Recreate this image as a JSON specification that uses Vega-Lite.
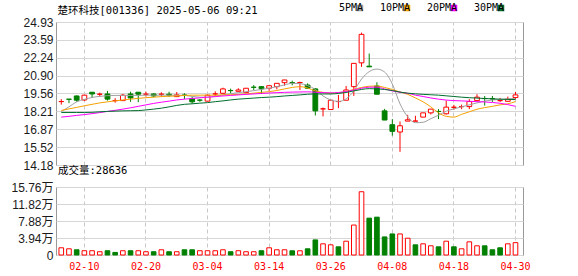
{
"$schema": "https://vega.github.io/schema/vega-lite/v6.json",
"background": "white",
"padding": {"left": 0, "top": 2, "right": 0, "bottom": 0},
"bounds": "flush",
"spacing": 22,
"config": {
  "view": {"stroke": "#999999", "strokeWidth": 1},
  "axis": {"domain": false, "ticks": false, "gridColor": "#d6d6d6", "gridWidth": 1}
},
"resolve": {"scale": {"color": "independent", "fill": "independent", "stroke": "independent"}, "legend": {"color": "independent", "fill": "independent", "stroke": "independent"}},
"datasets": {"k": [
{"d":"02-05","o":18.95,"h":19.13,"l":18.72,"c":18.95,"vol":1.67,"k":"up","v":"up","5PMA":18.20,"10PMA":18.28,"20PMA":17.78,"30PMA":18.13},
{"d":"02-06","o":19.13,"h":19.14,"l":18.83,"c":19.12,"vol":1.44,"k":"down","v":"up","5PMA":18.55,"10PMA":18.40,"20PMA":17.84,"30PMA":18.13},
{"d":"02-07","o":19.37,"h":19.40,"l":18.93,"c":19.05,"vol":1.21,"k":"down","v":"down","5PMA":18.93,"10PMA":18.51,"20PMA":17.91,"30PMA":18.13},
{"d":"02-10","o":19.07,"h":19.45,"l":19.00,"c":19.43,"vol":0.99,"k":"up","v":"up","5PMA":19.11,"10PMA":18.63,"20PMA":17.97,"30PMA":18.13},
{"d":"02-11","o":19.65,"h":19.66,"l":19.22,"c":19.52,"vol":0.99,"k":"down","v":"up","5PMA":19.26,"10PMA":18.74,"20PMA":18.04,"30PMA":18.14},
{"d":"02-12","o":19.50,"h":19.62,"l":19.32,"c":19.50,"vol":0.76,"k":"up","v":"up","5PMA":19.34,"10PMA":18.85,"20PMA":18.12,"30PMA":18.18},
{"d":"02-13","o":19.52,"h":19.75,"l":19.02,"c":19.13,"vol":0.99,"k":"down","v":"down","5PMA":19.39,"10PMA":18.93,"20PMA":18.21,"30PMA":18.21},
{"d":"02-14","o":19.02,"h":19.20,"l":18.87,"c":19.02,"vol":0.60,"k":"up","v":"down","5PMA":19.41,"10PMA":19.00,"20PMA":18.29,"30PMA":18.23},
{"d":"02-17","o":19.02,"h":19.52,"l":19.00,"c":19.43,"vol":0.99,"k":"up","v":"up","5PMA":19.41,"10PMA":19.07,"20PMA":18.38,"30PMA":18.25},
{"d":"02-18","o":19.52,"h":19.69,"l":18.93,"c":19.22,"vol":0.99,"k":"down","v":"down","5PMA":19.41,"10PMA":19.13,"20PMA":18.48,"30PMA":18.26},
{"d":"02-19","o":19.65,"h":19.67,"l":18.90,"c":19.50,"vol":0.99,"k":"down","v":"up","5PMA":19.41,"10PMA":19.19,"20PMA":18.59,"30PMA":18.27},
{"d":"02-20","o":19.50,"h":19.69,"l":19.32,"c":19.50,"vol":0.76,"k":"up","v":"up","5PMA":19.43,"10PMA":19.24,"20PMA":18.70,"30PMA":18.32},
{"d":"02-21","o":19.52,"h":19.57,"l":19.28,"c":19.37,"vol":0.76,"k":"down","v":"down","5PMA":19.43,"10PMA":19.28,"20PMA":18.81,"30PMA":18.38},
{"d":"02-24","o":19.50,"h":19.65,"l":19.32,"c":19.50,"vol":1.21,"k":"up","v":"up","5PMA":19.43,"10PMA":19.32,"20PMA":18.90,"30PMA":18.45},
{"d":"02-25","o":19.50,"h":19.69,"l":19.30,"c":19.43,"vol":0.76,"k":"down","v":"down","5PMA":19.43,"10PMA":19.35,"20PMA":18.98,"30PMA":18.55},
{"d":"02-26","o":19.32,"h":19.67,"l":19.32,"c":19.45,"vol":0.76,"k":"up","v":"up","5PMA":19.43,"10PMA":19.37,"20PMA":19.07,"30PMA":18.66},
{"d":"02-27","o":19.44,"h":19.57,"l":19.13,"c":19.42,"vol":1.21,"k":"down","v":"down","5PMA":19.41,"10PMA":19.41,"20PMA":19.13,"30PMA":18.74},
{"d":"02-28","o":19.17,"h":19.32,"l":18.78,"c":18.93,"vol":1.21,"k":"down","v":"down","5PMA":19.34,"10PMA":19.43,"20PMA":19.18,"30PMA":18.78},
{"d":"03-03","o":19.06,"h":19.13,"l":18.93,"c":19.05,"vol":0.99,"k":"down","v":"up","5PMA":19.28,"10PMA":19.43,"20PMA":19.23,"30PMA":18.83},
{"d":"03-04","o":18.98,"h":19.47,"l":18.97,"c":19.43,"vol":0.99,"k":"up","v":"up","5PMA":19.28,"10PMA":19.43,"20PMA":19.28,"30PMA":18.87},
{"d":"03-05","o":19.52,"h":19.72,"l":19.37,"c":19.52,"vol":0.99,"k":"up","v":"up","5PMA":19.35,"10PMA":19.43,"20PMA":19.32,"30PMA":18.94},
{"d":"03-06","o":19.57,"h":19.99,"l":19.52,"c":19.90,"vol":1.21,"k":"up","v":"up","5PMA":19.45,"10PMA":19.45,"20PMA":19.37,"30PMA":19.00},
{"d":"03-07","o":19.78,"h":19.92,"l":19.57,"c":19.77,"vol":0.76,"k":"down","v":"down","5PMA":19.54,"10PMA":19.46,"20PMA":19.41,"30PMA":19.07},
{"d":"03-10","o":19.72,"h":19.95,"l":19.72,"c":19.82,"vol":0.99,"k":"up","v":"up","5PMA":19.62,"10PMA":19.49,"20PMA":19.45,"30PMA":19.13},
{"d":"03-11","o":19.62,"h":19.96,"l":19.60,"c":19.95,"vol":0.76,"k":"up","v":"up","5PMA":19.69,"10PMA":19.52,"20PMA":19.49,"30PMA":19.17},
{"d":"03-12","o":20.03,"h":20.19,"l":19.82,"c":20.02,"vol":0.76,"k":"down","v":"up","5PMA":19.77,"10PMA":19.58,"20PMA":19.52,"30PMA":19.21},
{"d":"03-13","o":20.07,"h":20.10,"l":19.52,"c":19.92,"vol":0.99,"k":"down","v":"down","5PMA":19.86,"10PMA":19.64,"20PMA":19.56,"30PMA":19.25},
{"d":"03-14","o":19.95,"h":20.15,"l":19.75,"c":20.14,"vol":1.67,"k":"up","v":"up","5PMA":19.95,"10PMA":19.69,"20PMA":19.59,"30PMA":19.28},
{"d":"03-17","o":20.07,"h":20.33,"l":19.87,"c":20.32,"vol":1.21,"k":"up","v":"up","5PMA":20.07,"10PMA":19.78,"20PMA":19.62,"30PMA":19.32},
{"d":"03-18","o":20.37,"h":20.58,"l":20.14,"c":20.57,"vol":1.21,"k":"up","v":"up","5PMA":20.20,"10PMA":19.90,"20PMA":19.64,"30PMA":19.37},
{"d":"03-19","o":20.37,"h":20.52,"l":20.17,"c":20.36,"vol":0.98,"k":"down","v":"down","5PMA":20.32,"10PMA":20.01,"20PMA":19.66,"30PMA":19.41},
{"d":"03-20","o":20.38,"h":20.44,"l":19.82,"c":20.38,"vol":0.98,"k":"up","v":"up","5PMA":20.30,"10PMA":20.07,"20PMA":19.67,"30PMA":19.45},
{"d":"03-21","o":20.19,"h":20.32,"l":19.95,"c":19.95,"vol":1.44,"k":"down","v":"down","5PMA":20.15,"10PMA":19.97,"20PMA":19.68,"30PMA":19.50},
{"d":"03-24","o":19.90,"h":19.95,"l":17.90,"c":18.25,"vol":3.50,"k":"down","v":"down","5PMA":19.86,"10PMA":19.75,"20PMA":19.65,"30PMA":19.52},
{"d":"03-25","o":18.40,"h":18.50,"l":17.83,"c":18.40,"vol":2.59,"k":"up","v":"up","5PMA":19.37,"10PMA":19.64,"20PMA":19.62,"30PMA":19.52},
{"d":"03-26","o":18.35,"h":19.05,"l":18.35,"c":19.05,"vol":2.36,"k":"up","v":"up","5PMA":19.07,"10PMA":19.58,"20PMA":19.60,"30PMA":19.52},
{"d":"03-27","o":18.95,"h":19.45,"l":18.45,"c":18.95,"vol":1.90,"k":"up","v":"down","5PMA":18.96,"10PMA":19.60,"20PMA":19.63,"30PMA":19.56},
{"d":"03-28","o":19.05,"h":20.12,"l":19.05,"c":19.82,"vol":3.20,"k":"up","v":"up","5PMA":19.15,"10PMA":19.71,"20PMA":19.70,"30PMA":19.63},
{"d":"03-31","o":20.07,"h":21.82,"l":19.37,"c":21.82,"vol":6.94,"k":"up","v":"up","5PMA":19.75,"10PMA":19.86,"20PMA":19.82,"30PMA":19.75},
{"d":"04-01","o":21.86,"h":24.13,"l":21.56,"c":24.00,"vol":14.66,"k":"up","v":"up","5PMA":20.64,"10PMA":20.01,"20PMA":19.95,"30PMA":19.86},
{"d":"04-02","o":21.61,"h":22.56,"l":21.56,"c":21.56,"vol":8.54,"k":"down","v":"down","5PMA":21.20,"10PMA":20.10,"20PMA":20.03,"30PMA":19.92},
{"d":"04-03","o":20.12,"h":20.40,"l":19.50,"c":19.50,"vol":8.77,"k":"down","v":"down","5PMA":21.39,"10PMA":20.12,"20PMA":20.03,"30PMA":19.90},
{"d":"04-07","o":18.25,"h":18.40,"l":17.56,"c":17.56,"vol":4.19,"k":"down","v":"down","5PMA":21.17,"10PMA":20.01,"20PMA":19.90,"30PMA":19.86},
{"d":"04-08","o":17.21,"h":17.63,"l":16.39,"c":16.71,"vol":4.88,"k":"down","v":"down","5PMA":20.27,"10PMA":19.86,"20PMA":19.75,"30PMA":19.78},
{"d":"04-09","o":16.66,"h":17.45,"l":15.17,"c":17.13,"vol":4.88,"k":"up","v":"up","5PMA":18.78,"10PMA":19.67,"20PMA":19.65,"30PMA":19.66},
{"d":"04-10","o":17.48,"h":17.95,"l":17.48,"c":17.58,"vol":3.89,"k":"up","v":"up","5PMA":17.80,"10PMA":19.49,"20PMA":19.57,"30PMA":19.58},
{"d":"04-11","o":17.48,"h":17.88,"l":17.48,"c":17.48,"vol":2.36,"k":"up","v":"down","5PMA":17.36,"10PMA":19.22,"20PMA":19.43,"30PMA":19.53},
{"d":"04-14","o":17.78,"h":18.10,"l":17.78,"c":18.10,"vol":2.59,"k":"up","v":"up","5PMA":17.39,"10PMA":18.93,"20PMA":19.33,"30PMA":19.49},
{"d":"04-15","o":18.10,"h":18.38,"l":17.98,"c":18.38,"vol":2.13,"k":"up","v":"up","5PMA":17.66,"10PMA":18.55,"20PMA":19.22,"30PMA":19.46},
{"d":"04-16","o":18.21,"h":18.38,"l":17.63,"c":18.20,"vol":1.90,"k":"down","v":"down","5PMA":17.92,"10PMA":18.10,"20PMA":19.13,"30PMA":19.43},
{"d":"04-17","o":18.03,"h":19.02,"l":17.98,"c":18.53,"vol":3.20,"k":"up","v":"up","5PMA":18.22,"10PMA":17.84,"20PMA":19.06,"30PMA":19.38},
{"d":"04-18","o":18.52,"h":18.70,"l":18.33,"c":18.52,"vol":1.90,"k":"up","v":"down","5PMA":18.40,"10PMA":17.78,"20PMA":19.02,"30PMA":19.33},
{"d":"04-21","o":18.57,"h":18.72,"l":18.38,"c":18.57,"vol":1.44,"k":"up","v":"up","5PMA":18.55,"10PMA":17.99,"20PMA":19.00,"30PMA":19.28},
{"d":"04-22","o":18.57,"h":19.13,"l":18.38,"c":18.95,"vol":3.05,"k":"up","v":"up","5PMA":18.70,"10PMA":18.18,"20PMA":18.97,"30PMA":19.24},
{"d":"04-23","o":19.02,"h":19.50,"l":19.02,"c":19.28,"vol":2.13,"k":"up","v":"up","5PMA":18.85,"10PMA":18.37,"20PMA":18.94,"30PMA":19.21},
{"d":"04-24","o":19.18,"h":19.37,"l":18.65,"c":19.17,"vol":2.13,"k":"down","v":"down","5PMA":18.98,"10PMA":18.49,"20PMA":18.92,"30PMA":19.18},
{"d":"04-25","o":19.17,"h":19.37,"l":18.93,"c":19.15,"vol":1.21,"k":"down","v":"down","5PMA":19.07,"10PMA":18.59,"20PMA":18.88,"30PMA":19.15},
{"d":"04-28","o":19.02,"h":19.22,"l":18.93,"c":19.02,"vol":1.67,"k":"up","v":"down","5PMA":19.11,"10PMA":18.70,"20PMA":18.82,"30PMA":19.13},
{"d":"04-29","o":18.97,"h":19.32,"l":18.97,"c":19.13,"vol":2.59,"k":"up","v":"up","5PMA":19.15,"10PMA":18.78,"20PMA":18.72,"30PMA":19.11},
{"d":"04-30","o":19.25,"h":19.67,"l":19.13,"c":19.45,"vol":2.8636,"k":"up","v":"up","5PMA":19.19,"10PMA":18.95,"20PMA":18.59,"30PMA":19.10}
]},
"vconcat": [
{
  "width": 467,
  "height": 143,
  "data": {"name": "k"},
  "encoding": {
    "x": {"field": "d", "type": "ordinal", "sort": null,
      "scale": {"type": "band", "paddingInner": 0, "paddingOuter": 0.33, "align": 0.28},
      "axis": {"orient": "top", "values": ["02-10","02-20","03-04","03-14","03-26","04-08","04-18","04-30"], "labels": false, "grid": true, "gridDash": [4,3], "gridColor": "#c8c8c8", "bandPosition": 0.5, "minExtent": 0, "maxExtent": 0,
        "title": "楚环科技[001336] 2025-05-06 09:21", "titleX": 1, "titleY": -9, "titleAlign": "left", "titleAnchor": "start", "titleBaseline": "alphabetic", "titleFont": "DejaVu Sans Mono, Noto Sans CJK SC", "titleFontSize": 10.5, "titleFontWeight": "normal", "titleColor": "#000000"}}
  },
  "layer": [
    {"mark": {"type": "rule", "strokeWidth": 1},
     "encoding": {
       "y": {"field": "l", "type": "quantitative", "scale": {"domain": [14.18, 24.93], "nice": false, "zero": false},
         "axis": {"values": [14.18,15.52,16.87,18.21,19.56,20.90,22.24,23.59,24.93], "format": ".2f", "title": null, "grid": true, "labelFont": "Liberation Sans", "labelFontSize": 12, "labelColor": "#1a1a1a", "labelPadding": 3, "minExtent": 55, "maxExtent": 55, "labelOverlap": false, "labelFlush": false}},
       "y2": {"field": "h"},
       "stroke": {"field": "k", "type": "nominal", "scale": {"domain": ["up","down"], "range": ["#ff0000","#008000"]}, "legend": null}
     }},
    {"mark": {"type": "bar", "width": {"band": 0.62}, "strokeWidth": 1},
     "encoding": {
       "y": {"field": "o", "type": "quantitative", "scale": {"domain": [14.18, 24.93], "nice": false, "zero": false},
         "axis": {"values": [14.18,15.52,16.87,18.21,19.56,20.90,22.24,23.59,24.93], "format": ".2f", "title": null, "grid": true, "labelFont": "Liberation Sans", "labelFontSize": 12, "labelColor": "#1a1a1a", "labelPadding": 3, "minExtent": 55, "maxExtent": 55, "labelOverlap": false, "labelFlush": false}},
       "y2": {"field": "c"},
       "fill": {"field": "k", "type": "nominal", "scale": {"domain": ["up","down"], "range": ["#ffffff","#008000"]}, "legend": null},
       "stroke": {"field": "k", "type": "nominal", "scale": {"domain": ["up","down"], "range": ["#ff0000","#008000"]}, "legend": null}
     }},
    {"transform": [{"fold": ["5PMA","10PMA","20PMA","30PMA"], "as": ["ma","val"]}],
     "mark": {"type": "line", "strokeWidth": 1, "interpolate": "monotone"},
     "encoding": {
       "y": {"field": "val", "type": "quantitative", "scale": {"domain": [14.18, 24.93], "nice": false, "zero": false},
         "axis": {"values": [14.18,15.52,16.87,18.21,19.56,20.90,22.24,23.59,24.93], "format": ".2f", "title": null, "grid": true, "labelFont": "Liberation Sans", "labelFontSize": 12, "labelColor": "#1a1a1a", "labelPadding": 3, "minExtent": 55, "maxExtent": 55, "labelOverlap": false, "labelFlush": false}},
       "color": {"field": "ma", "type": "nominal", "sort": null,
         "scale": {"domain": ["5PMA","10PMA","20PMA","30PMA"], "range": ["#a0a0a0","#f5a000","#ff00ff","#006e2e"]},
         "legend": {"orient": "none", "legendX": 293, "legendY": -19, "direction": "horizontal", "title": null,
           "symbolType": "square", "symbolSize": 16, "symbolStrokeWidth": 2.5,
           "labelFont": "DejaVu Sans Mono", "labelFontSize": 10, "labelColor": "#000000",
           "labelAlign": "right", "labelOffset": -2, "symbolOffset": 6, "columnPadding": 12}}
     }}
  ]
},
{
  "width": 467,
  "height": 68,
  "title": {"text": "成交量:28636", "anchor": "start", "frame": "group", "font": "DejaVu Sans Mono, Noto Sans CJK SC", "fontSize": 10.5, "fontWeight": "normal", "color": "#000000", "offset": 5, "dx": 2},
  "data": {"name": "k"},
  "mark": {"type": "bar", "width": {"band": 0.6}, "strokeWidth": 1},
  "encoding": {
    "x": {"field": "d", "type": "ordinal", "sort": null,
      "scale": {"type": "band", "paddingInner": 0, "paddingOuter": 0.33, "align": 0.28},
      "axis": {"values": ["02-10","02-20","03-04","03-14","03-26","04-08","04-18","04-30"], "title": null, "labelAngle": 0, "labelColor": "#ff0000", "labelFont": "DejaVu Sans Mono", "labelFontSize": 10, "labelPadding": 6, "grid": true, "gridDash": [4,3], "gridColor": "#c8c8c8", "bandPosition": 0.5}},
    "y": {"field": "vol", "type": "quantitative", "scale": {"domain": [0, 15.76], "nice": false, "zero": true},
      "axis": {"values": [0, 3.94, 7.88, 11.82, 15.76], "title": null, "labelExpr": "datum.value == 0 ? '0' : format(datum.value, '.2f') + '万'", "grid": true, "labelFont": "Liberation Sans, Noto Sans CJK SC", "labelFontSize": 12, "labelColor": "#1a1a1a", "labelPadding": 3, "minExtent": 55, "maxExtent": 55, "labelOverlap": false, "labelFlush": false}},
    "fill": {"field": "v", "type": "nominal", "scale": {"domain": ["up","down"], "range": ["#ffffff","#008000"]}, "legend": null},
    "stroke": {"field": "v", "type": "nominal", "scale": {"domain": ["up","down"], "range": ["#ff0000","#008000"]}, "legend": null}
  }
}
]
}
